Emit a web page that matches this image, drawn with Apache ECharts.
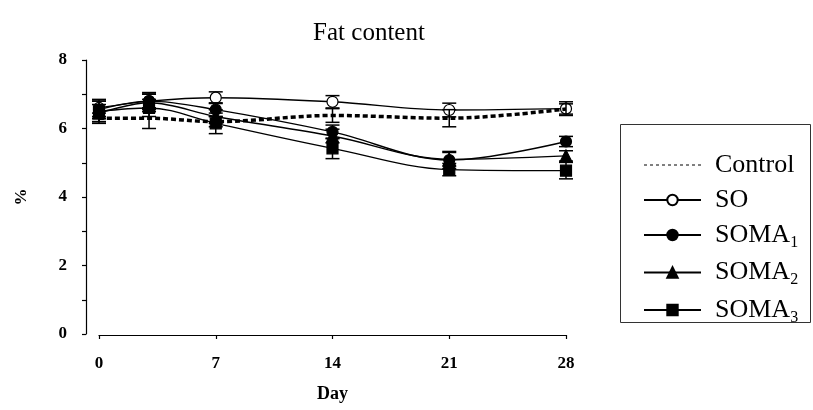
<!DOCTYPE html>
<html>
<head>
<meta charset="utf-8">
<script src="https://cdn.jsdelivr.net/npm/echarts@6/dist/echarts.min.js"></script>
<style>html,body{margin:0;padding:0;background:#fff}#c{width:813px;height:410px}</style>
</head>
<body>
<div id="c"></div>
<script>
// ---- data ----
var days = [0, 3, 7, 14, 21, 28];
var seriesNames = ['Control', 'SO', 'SOMA1', 'SOMA2', 'SOMA3'];
var control = [6.30, 6.30, 6.20, 6.38, 6.30, 6.57];
var so      = [6.60, 6.80, 6.90, 6.78, 6.54, 6.58];
var soma1   = [6.55, 6.80, 6.55, 5.90, 5.08, 5.62];
var soma2   = [6.45, 6.75, 6.35, 5.78, 5.10, 5.20];
var soma3   = [6.50, 6.60, 6.15, 5.42, 4.80, 4.77];
var controlErr = [0.15, 0.30, 0.15, 0.20, 0.25, 0.15];
var soErr      = [0.25, 0.20, 0.17, 0.18, 0.20, 0.20];
var soma1Err   = [0.25, 0.25, 0.20, 0.20, 0.25, 0.15];
var soma2Err   = [0.25, 0.26, 0.20, 0.20, 0.20, 0.15];
var soma3Err   = [0.30, 0.25, 0.30, 0.30, 0.18, 0.24];
var xTicks = [0, 7, 14, 21, 28];
var yTicks = [0, 2, 4, 6, 8];

var FONT = '"Liberation Serif", "DejaVu Serif", serif';

function pts(vals) { return days.map(function (d, i) { return [d, vals[i]]; }); }
function errs(vals, e) { return days.map(function (d, i) { return [d, vals[i] - e[i], vals[i] + e[i]]; }); }

function errorSeries(vals, e, z) {
  return {
    type: 'custom',
    silent: true,
    z: z,
    data: errs(vals, e),
    renderItem: function (params, api) {
      var x = api.value(0);
      var lo = api.coord([x, api.value(1)]);
      var hi = api.coord([x, api.value(2)]);
      var hw = 7;
      var st = { stroke: '#000', lineWidth: 1.5 };
      return {
        type: 'group',
        children: [
          { type: 'line', shape: { x1: lo[0], y1: lo[1], x2: hi[0], y2: hi[1] }, style: st },
          { type: 'line', shape: { x1: lo[0] - hw, y1: lo[1], x2: lo[0] + hw, y2: lo[1] }, style: st },
          { type: 'line', shape: { x1: hi[0] - hw, y1: hi[1], x2: hi[0] + hw, y2: hi[1] }, style: st }
        ]
      };
    }
  };
}

function lineSeries(name, vals, symbol, size, fill, z) {
  return {
    name: name,
    type: 'line',
    data: pts(vals),
    smooth: 0.35,
    symbol: symbol,
    symbolSize: size,
    showSymbol: true,
    z: z,
    itemStyle: { color: fill, borderColor: '#000', borderWidth: 1.2, opacity: 1 },
    lineStyle: { color: '#000', width: 1.4 },
    emphasis: { disabled: true }
  };
}

var chart = echarts.init(document.getElementById('c'), null, { renderer: 'canvas' });

var rich = {
  a: { fontFamily: FONT, fontSize: 26, color: '#000' },
  s: { fontFamily: FONT, fontSize: 16, color: '#000', padding: [15, 0, 0, 0] }
};

chart.setOption({
  animation: false,
  backgroundColor: '#fff',
  title: {
    text: 'Fat content',
    left: 369,
    textAlign: 'center',
    top: 21,
    padding: 0,
    textStyle: { fontFamily: FONT, fontSize: 25, fontWeight: 'normal', color: '#000' }
  },
  grid: { left: 99, right: 247, top: 60, bottom: 76, containLabel: false },
  xAxis: {
    type: 'value', min: 0, max: 28, interval: 7,
    offset: 1,
    name: 'Day', nameLocation: 'middle', nameGap: 50,
    nameTextStyle: { fontFamily: FONT, fontSize: 18, fontWeight: 'bold', color: '#000' },
    axisLine: { show: true, onZero: false, lineStyle: { color: '#000', width: 1.2 } },
    axisTick: { show: true, inside: false, length: 4, lineStyle: { color: '#000', width: 1.2 } },
    axisLabel: { margin: 20, fontFamily: FONT, fontSize: 17, fontWeight: 'bold', color: '#000',
      formatter: function (v) { return xTicks.indexOf(v) >= 0 ? String(v) : ''; } },
    splitLine: { show: false }
  },
  yAxis: {
    type: 'value', min: 0, max: 8, interval: 1,
    offset: 13,
    name: '%', nameLocation: 'middle', nameGap: 56, nameRotate: 90,
    nameTextStyle: { fontFamily: FONT, fontSize: 17, fontWeight: 'bold', color: '#000' },
    axisLine: { show: true, onZero: false, lineStyle: { color: '#000', width: 1.2 } },
    axisTick: { show: true, inside: false, length: 4, lineStyle: { color: '#000', width: 1.2 } },
    axisLabel: { margin: 19, fontFamily: FONT, fontSize: 17, fontWeight: 'bold', color: '#000',
      formatter: function (v) { return yTicks.indexOf(v) >= 0 ? String(v) : ''; } },
    splitLine: { show: false }
  },
  legend: {
    orient: 'vertical',
    left: 643,
    top: 152,
    itemWidth: 57,
    itemHeight: 13,
    itemGap: 9,
    selectedMode: false,
    padding: 0,
    textStyle: { fontFamily: FONT, fontSize: 26, color: '#000', padding: [0, 0, 0, 9], rich: rich },
    formatter: function (n) {
      var m = n.match(/^SOMA(\d)$/);
      if (m) return '{a|SOMA}{s|' + m[1] + '}';
      return '{a|' + n + '}';
    },
    data: [
      { name: 'Control', itemStyle: { opacity: 0 }, lineStyle: { width: 1, type: [3, 3], opacity: 1 } },
      { name: 'SO' },
      { name: 'SOMA1' },
      { name: 'SOMA2' },
      { name: 'SOMA3' }
    ]
  },
  graphic: [{
    type: 'rect', left: 618, top: 122, silent: true,
    shape: { width: 190, height: 198 },
    style: { fill: 'none', stroke: '#333', lineWidth: 1 }
  }],
  series: [
    errorSeries(so, soErr, 2),
    lineSeries('SO', so, 'circle', 11, '#fff', 3),
    errorSeries(control, controlErr, 4),
    {
      name: 'Control', type: 'line', data: pts(control), smooth: 0.35,
      symbol: 'none', z: 4,
      lineStyle: { color: '#000', width: 3.5, type: [5, 3] },
      itemStyle: { color: '#000' },
      emphasis: { disabled: true }
    },
    errorSeries(soma1, soma1Err, 5),
    errorSeries(soma2, soma2Err, 5),
    errorSeries(soma3, soma3Err, 5),
    lineSeries('SOMA3', soma3, 'rect', 11, '#000', 6),
    lineSeries('SOMA2', soma2, 'triangle', 12, '#000', 6),
    lineSeries('SOMA1', soma1, 'circle', 11, '#000', 6)
  ]
});
</script>
</body>
</html>
